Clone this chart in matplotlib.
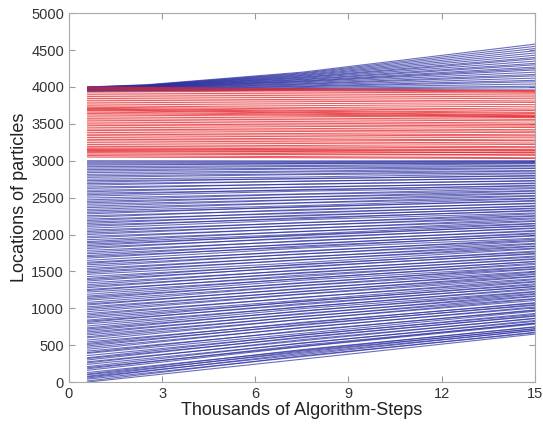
import matplotlib
matplotlib.use("Agg")
import matplotlib.pyplot as plt
import numpy as np

plt.rcParams["font.family"] = ["Liberation Sans", "DejaVu Sans"]

# sample points in thousands of algorithm steps
x_low = [0.6, 7.5, 15.0]
x_up = [0.6, 2.5, 7.5, 15.0]
x_red = [0.6, 15.0]

# lower blue particles: start, middle, end
blue_low_start = [
    0, 15, 40, 55, 70, 80, 100, 110, 130, 160,
    180, 195, 210, 240, 260, 275, 300, 320, 330, 360,
    390, 400, 420, 445, 470, 490, 510, 525, 545, 570,
    600, 615, 640, 660, 680, 700, 720, 735, 760, 790,
    810, 825, 840, 870, 890, 910, 930, 955, 980, 1000,
    1020, 1045, 1060, 1080, 1110, 1130, 1150, 1165, 1190, 1220,
    1240, 1255, 1280, 1300, 1320, 1345, 1370, 1390, 1405, 1430,
    1460, 1480, 1500, 1520, 1540, 1565, 1590, 1610, 1625, 1650,
    1680, 1700, 1715, 1740, 1760, 1785, 1810, 1830, 1850, 1870,
    1890, 1905, 1930, 1955, 1975, 2000, 2020, 2040, 2060, 2085,
    2110, 2130, 2150, 2170, 2190, 2210, 2235, 2255, 2280, 2300,
    2320, 2340, 2365, 2385, 2410, 2430, 2450, 2470, 2495, 2520,
    2540, 2560, 2580, 2600, 2625, 2645, 2670, 2690, 2710, 2730,
    2750, 2775, 2795, 2815, 2840, 2860, 2880, 2900, 2920, 2940,
    2955, 2970, 2985, 3000,
]
blue_low_mid = [
    310, 355, 345, 390, 372, 420, 405, 440, 430, 480,
    500, 485, 530, 525, 575, 560, 610, 600, 640, 635,
    660, 700, 690, 740, 735, 780, 770, 810, 800, 850,
    850, 890, 885, 930, 920, 965, 960, 995, 1020, 1015,
    1065, 1050, 1095, 1090, 1110, 1150, 1145, 1190, 1195, 1230,
    1225, 1270, 1262, 1305, 1310, 1348, 1340, 1380, 1405, 1400,
    1450, 1432, 1485, 1475, 1520, 1515, 1565, 1555, 1598, 1590,
    1620, 1660, 1655, 1698, 1692, 1738, 1735, 1778, 1770, 1815,
    1845, 1830, 1875, 1868, 1915, 1908, 1960, 1948, 1995, 1985,
    2005, 2042, 2040, 2085, 2080, 2125, 2122, 2162, 2158, 2200,
    2228, 2215, 2262, 2252, 2300, 2288, 2340, 2328, 2378, 2370,
    2392, 2428, 2432, 2468, 2472, 2508, 2510, 2545, 2550, 2588,
    2610, 2602, 2645, 2640, 2685, 2680, 2725, 2720, 2760, 2755,
    2780, 2812, 2822, 2848, 2860, 2888, 2898, 2922, 2935, 2958,
    2962, 2975, 2988, 2998,
]
blue_low_end = [
    650, 668, 676, 700, 702, 720, 725, 745, 750, 785,
    795, 800, 822, 835, 860, 865, 892, 900, 915, 930,
    960, 970, 978, 1005, 1018, 1040, 1050, 1068, 1076, 1105,
    1125, 1132, 1160, 1168, 1190, 1200, 1222, 1228, 1255, 1270,
    1292, 1298, 1318, 1332, 1356, 1365, 1388, 1400, 1428, 1435,
    1458, 1470, 1490, 1500, 1530, 1538, 1560, 1566, 1594, 1610,
    1632, 1636, 1664, 1672, 1695, 1708, 1735, 1744, 1762, 1775,
    1805, 1815, 1838, 1845, 1870, 1880, 1908, 1918, 1936, 1950,
    1980, 1988, 2008, 2020, 2044, 2055, 2082, 2090, 2114, 2122,
    2145, 2150, 2178, 2188, 2212, 2225, 2248, 2256, 2280, 2292,
    2318, 2328, 2350, 2358, 2382, 2390, 2418, 2425, 2452, 2462,
    2485, 2492, 2520, 2528, 2556, 2562, 2588, 2595, 2622, 2635,
    2658, 2666, 2690, 2698, 2725, 2732, 2760, 2768, 2792, 2800,
    2824, 2835, 2860, 2866, 2895, 2902, 2926, 2935, 2958, 2966,
    2976, 2985, 2992, 3000,
]

# upper blue particles, leaving the top of the red group
blue_up_start = [3940, 3945, 3950, 3955, 3960, 3964, 3968, 3971, 3974, 3977,
                 3980, 3982, 3984, 3986, 3988, 3990, 3991, 3992, 3993, 3994,
                 3995, 3996, 3998, 4000]
blue_up_q = [3945, 3950, 3958, 3964, 3970, 3975, 3980, 3984, 3988, 3991,
             3994, 3997, 4000, 4003, 4005, 4008, 4010, 4013, 4015, 4018,
             4020, 4023, 4026, 4030]
blue_up_mid = [3958, 3970, 3980, 3992, 4004, 4012, 4024, 4036, 4044, 4056,
               4068, 4076, 4084, 4096, 4104, 4116, 4126, 4134, 4146, 4156,
               4166, 4178, 4188, 4200]
blue_up_end = [3960, 3990, 4010, 4040, 4070, 4090, 4120, 4150, 4170, 4200,
               4230, 4250, 4270, 4300, 4320, 4350, 4380, 4400, 4430, 4460,
               4490, 4520, 4550, 4580]

# red particles: start, end
red_start = [
    3050, 3070, 3090, 3110, 3125, 3140, 3150, 3160, 3175, 3195,
    3220, 3245, 3270, 3290, 3315, 3340, 3360, 3385, 3410, 3430,
    3455, 3480, 3500, 3525, 3550, 3570, 3595, 3620, 3640, 3660,
    3680, 3690, 3700, 3710, 3725, 3745, 3770, 3795, 3820, 3845,
    3870, 3895, 3920, 3945, 3970, 3985, 4000,
]
red_end = [
    3030, 3040, 3075, 3080, 3110, 3105, 3130, 3140, 3150, 3175,
    3190, 3220, 3240, 3270, 3280, 3310, 3335, 3350, 3380, 3400,
    3420, 3450, 3470, 3490, 3510, 3540, 3560, 3585, 3595, 3600,
    3610, 3620, 3640, 3655, 3680, 3700, 3730, 3760, 3790, 3810,
    3840, 3865, 3890, 3915, 3930, 3940, 3950,
]

BLUE = "#2c30a0"
RED = "#e5262b"

fig = plt.figure(figsize=(5.43, 4.25), dpi=100)
ax = fig.add_axes([0.127, 0.101, 0.858, 0.868])

for s, m, e in zip(blue_low_start, blue_low_mid, blue_low_end):
    ax.plot(x_low, [s, m, e], color=BLUE, lw=0.8, alpha=0.7)
for s, q, m, e in zip(blue_up_start, blue_up_q, blue_up_mid, blue_up_end):
    ax.plot(x_up, [s, q, m, e], color=BLUE, lw=0.8, alpha=0.7)
for s, e in zip(red_start, red_end):
    ax.plot(x_red, [s, e], color=RED, lw=0.8, alpha=0.75)

ax.set_xlim(0, 15)
ax.set_ylim(0, 5000)
ax.set_xticks(np.arange(0, 16, 3))
ax.set_yticks(np.arange(0, 5001, 500))
ax.tick_params(direction="in", top=True, right=True, length=4,
               color="#999999", labelsize=10.5, labelcolor="#333333")
for sp in ax.spines.values():
    sp.set_color("#aaaaaa")
    sp.set_linewidth(0.8)

ax.set_xlabel("Thousands of Algorithm-Steps", fontsize=13, color="#222222", labelpad=1)
ax.set_ylabel("Locations of particles", fontsize=13, color="#222222", labelpad=2)

fig.savefig("out.png", dpi=100)
